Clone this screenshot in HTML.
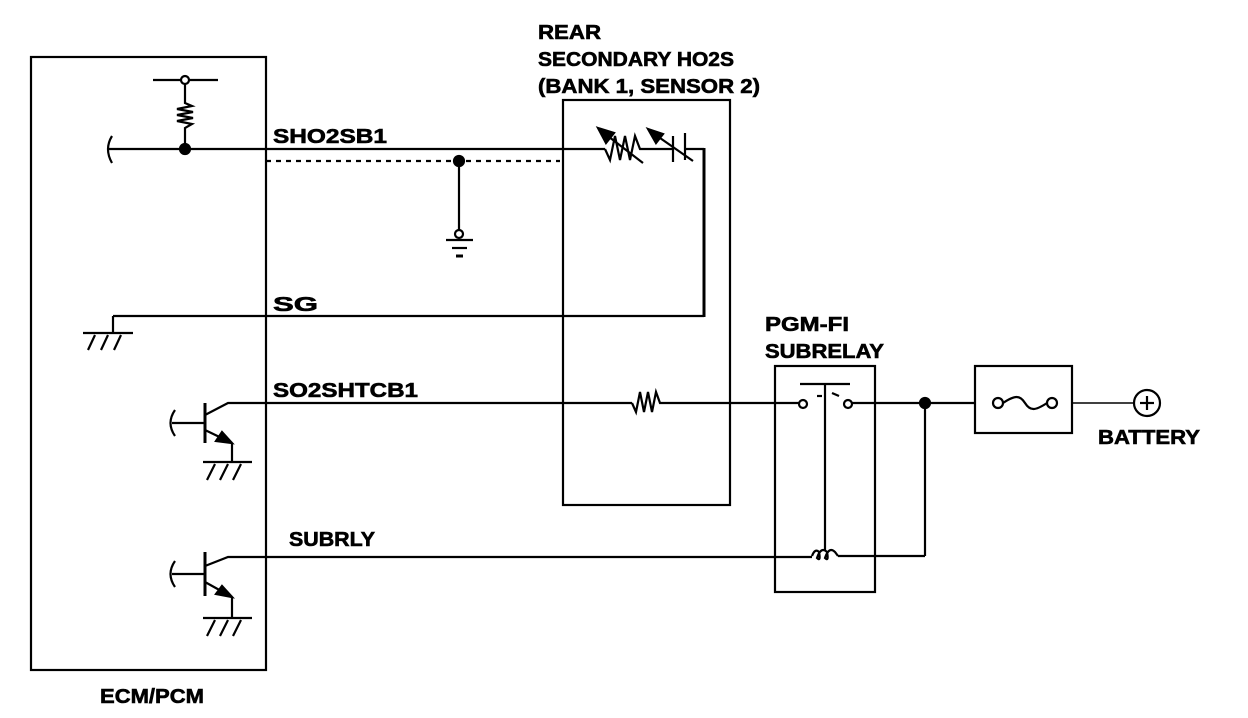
<!DOCTYPE html>
<html><head><style>html,body{margin:0;padding:0;background:#fff}svg{display:block}text{font-family:"Liberation Sans",Arial,sans-serif;font-weight:bold;font-size:20px;fill:#000;stroke:#000;stroke-width:0.6}</style></head>
<body>
<svg width="1248" height="718" viewBox="0 0 1248 718" xmlns="http://www.w3.org/2000/svg" fill="none" stroke="#000" stroke-width="2.2">
<rect x="31" y="57" width="235" height="613"/>
<rect x="563" y="100" width="167" height="405"/>
<rect x="775" y="366" width="100" height="226"/>
<rect x="975" y="366" width="97" height="67"/>
<g>
<text x="100" y="703" textLength="104" lengthAdjust="spacingAndGlyphs">ECM/PCM</text>
<text x="538" y="39" textLength="63" lengthAdjust="spacingAndGlyphs">REAR</text>
<text x="538" y="66" textLength="196" lengthAdjust="spacingAndGlyphs">SECONDARY HO2S</text>
<text x="538" y="93" textLength="222" lengthAdjust="spacingAndGlyphs">(BANK 1, SENSOR 2)</text>
<text x="273" y="143" textLength="114" lengthAdjust="spacingAndGlyphs">SHO2SB1</text>
<text x="273" y="311" textLength="45" lengthAdjust="spacingAndGlyphs">SG</text>
<text x="273" y="397" textLength="145" lengthAdjust="spacingAndGlyphs">SO2SHTCB1</text>
<text x="289" y="546" textLength="86" lengthAdjust="spacingAndGlyphs">SUBRLY</text>
<text x="765" y="331" textLength="84" lengthAdjust="spacingAndGlyphs">PGM-FI</text>
<text x="765" y="358" textLength="119" lengthAdjust="spacingAndGlyphs">SUBRELAY</text>
<text x="1098" y="444" textLength="102" lengthAdjust="spacingAndGlyphs">BATTERY</text>
</g>
<line x1="153" y1="80" x2="218" y2="80"/>
<circle cx="185" cy="80" r="4" fill="#fff"/>
<polyline points="185,84 185,103 192,106 177,109 193,112 177,115 193,118 177,121 192,124 185,128 185,149"/>
<circle cx="185" cy="149" r="5" fill="#000"/>
<path d="M112,136 Q104,149 112,163"/>
<line x1="108" y1="149" x2="605" y2="149"/>
<line x1="643" y1="149" x2="673" y2="149"/>
<line x1="685" y1="149" x2="704" y2="149"/>
<polyline points="605,149 610,160 615,136 620,160 625,136 630,160 635,136 640,149 643,149"/>
<line x1="600" y1="130" x2="643" y2="163"/>
<polygon points="598,128 614,133 606,143" fill="#000"/>
<line x1="673" y1="136" x2="673" y2="162"/>
<line x1="685" y1="133" x2="685" y2="160"/>
<line x1="650" y1="131" x2="693" y2="161"/>
<polygon points="648,129 663,134 656,143" fill="#000"/>
<line x1="704" y1="148" x2="704" y2="317" stroke-width="3"/>
<line x1="266" y1="161" x2="560" y2="161" stroke-dasharray="5,5"/>
<circle cx="459" cy="161" r="5" fill="#000"/>
<line x1="459" y1="161" x2="459" y2="230"/>
<circle cx="459" cy="234" r="4" fill="#fff"/>
<line x1="446" y1="240" x2="473" y2="240"/>
<line x1="452" y1="248" x2="467" y2="248"/>
<line x1="456" y1="256" x2="463" y2="256" stroke-width="3"/>
<line x1="113" y1="316" x2="704" y2="316"/>
<line x1="113" y1="316" x2="113" y2="333"/>
<line x1="83" y1="333" x2="133" y2="333"/>
<path d="M95,335 L88,350 M108,335 L101,350 M121,335 L114,350"/>
<path d="M175,410 Q166,423 175,436"/>
<line x1="172" y1="423" x2="205" y2="423"/>
<line x1="205" y1="403" x2="205" y2="443" stroke-width="3"/>
<polyline points="205,415 228,403 632,403"/>
<line x1="205" y1="430" x2="232" y2="443"/>
<polygon points="232,443 216,441 222,432" fill="#000"/>
<line x1="232" y1="443" x2="232" y2="462"/>
<line x1="203" y1="462" x2="252" y2="462"/>
<path d="M215,464 L207,480 M228,464 L220,480 M241,464 L233,480"/>
<polyline points="632,403 636,412 640,392 644,412 648,392 652,412 656,392 660,403 799,403"/>
<circle cx="803" cy="404" r="4" fill="#fff"/>
<circle cx="848" cy="404" r="4" fill="#fff"/>
<line x1="800" y1="384" x2="850" y2="384"/>
<line x1="825" y1="384" x2="825" y2="551"/>
<line x1="817" y1="396" x2="822" y2="396"/>
<line x1="832" y1="393" x2="839" y2="396"/>
<line x1="852" y1="403" x2="975" y2="403"/>
<circle cx="925" cy="403" r="5" fill="#000"/>
<line x1="925" y1="403" x2="925" y2="556"/>
<line x1="838" y1="556" x2="925" y2="556"/>
<path d="M812,556 Q815,548 819,552 Q821,562 817,558 Q821,546 827,552 Q829,562 825,558 Q829,546 835,552 L838,556"/>
<path d="M175,561 Q166,574 175,587"/>
<line x1="172" y1="574" x2="205" y2="574"/>
<line x1="205" y1="552" x2="205" y2="596" stroke-width="3"/>
<polyline points="205,566 228,557 812,557"/>
<line x1="205" y1="582" x2="232" y2="597"/>
<polygon points="232,597 216,594 222,586" fill="#000"/>
<line x1="232" y1="597" x2="232" y2="618"/>
<line x1="203" y1="618" x2="252" y2="618"/>
<path d="M215,620 L207,636 M228,620 L220,636 M241,620 L233,636"/>
<circle cx="998" cy="403" r="5" fill="#fff"/>
<circle cx="1052" cy="403" r="5" fill="#fff"/>
<path d="M1003,403 C1015,395 1020,395 1025,403 C1030,411 1035,411 1047,403"/>
<line x1="1072" y1="403" x2="1134" y2="403" stroke-width="1.5"/>
<circle cx="1147" cy="403" r="13"/>
<line x1="1140" y1="403" x2="1154" y2="403"/>
<line x1="1147" y1="396" x2="1147" y2="410"/>
</svg>
</body></html>
